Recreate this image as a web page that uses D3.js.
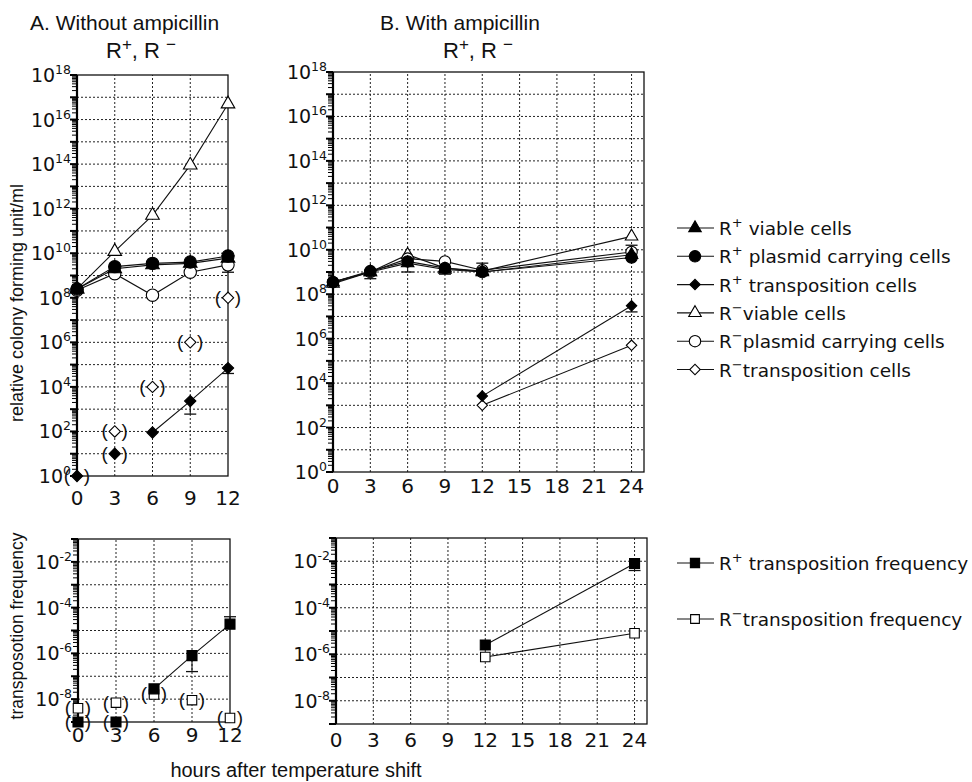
<!DOCTYPE html>
<html>
<head>
<meta charset="utf-8">
<script src="https://cdn.jsdelivr.net/npm/d3@7"></script>
<style>
	body { margin: 0; background: #fff; }
	text { font-family: "Liberation Sans", Arial, sans-serif; fill: #111; }
	text.num { font-family: "DejaVu Sans", sans-serif; }
</style>
</head>
<body>
<svg id="chart" width="972" height="782"></svg>
<script>
// ---- data ----
const hoursA = [0, 3, 6, 9, 12];
const hoursB = [0, 3, 6, 9, 12, 24];
const xTicksA = [0, 3, 6, 9, 12];
const xTicksB = [0, 3, 6, 9, 12, 15, 18, 21, 24];
const cfuExponents = [0, 2, 4, 6, 8, 10, 12, 14, 16, 18];
const freqExponents = [-2, -4, -6, -8];

// A. without ampicillin, colony forming units
const rpViableA = [2.5e8, 2e9, 3e9, 3.5e9, 6e9];
const rpPlasmidA = [2.5e8, 2.5e9, 3.5e9, 4e9, 7.5e9];
const rpTranspA = [1, 10, 90, 2.3e3, 7e4];
const rpTranspAParens = [true, true, false, false, false];
const rpTranspAErrLo = [null, null, null, 600, 4e4];
const rmViableA = [2.5e8, 1.2e10, 5e11, 9e13, 5e16];
const rmPlasmidA = [2.2e8, 1.2e9, 1.3e8, 1.4e9, 3e9];
const rmPlasmidAErrLo = [null, null, 1.1e8, 1.1e9, 1.4e9];
const rmTranspA = [null, 1e2, 1e4, 1e6, 1e8];
const rmTranspAParens = [true, true, true, true, true];

// B. with ampicillin, colony forming units
const rpViableB = [3.5e8, 1e9, 2.5e9, 1.3e9, 1e9, 6e9];
const rpViableBErrLo = [2.5e8, 5e8, 1e9, 8e8, 7e8, null];
const rpPlasmidB = [3.5e8, 1.1e9, 3e9, 1.5e9, 1e9, 4.5e9];
const rpTranspB = [null, null, null, null, 2.6e3, 3e7];
const rpTranspBErrLo = [null, null, null, null, null, 1.6e7];
const rmViableB = [3e8, 1e9, 6e9, 1.5e9, 1.1e9, 4e10];
const rmViableBErrHi = [null, null, null, null, 2.5e9, null];
const rmPlasmidB = [3.5e8, 1e9, 4e9, 3e9, 1.2e9, 8e9];
const rmPlasmidBErrHi = [null, null, null, null, null, 1.6e10];
const rmTranspB = [null, null, null, null, 1e3, 5e5];

// transposition frequency
const rpFreqA = [1e-9, 1e-9, 2.8e-8, 8e-7, 1.9e-5];
const rpFreqAParens = [true, true, false, false, false];
const rpFreqAErrLo = [null, null, null, 1.6e-7, null];
const rpFreqAErrHi = [null, null, null, null, 4e-5];
const rmFreqA = [4e-9, 7e-9, 1.6e-8, 9e-9, 1.5e-9];
const rmFreqAParens = [true, true, true, true, true];
const rpFreqB = [null, null, null, null, 2.5e-6, 8e-3];
const rpFreqBErrLo = [null, null, null, null, null, 4e-3];
const rmFreqB = [null, null, null, null, 7.6e-7, 8e-6];

// ---- marker styles ----
const markerStyles = {
	rpViable: { symbol: d3.symbolTriangle, size: 80, fill: '#000', rotate: 0 },
	rpPlasmid: { symbol: d3.symbolCircle, size: 120, fill: '#000', rotate: 0 },
	rpTransp: { symbol: d3.symbolSquare, size: 64, fill: '#000', rotate: 45 },
	rmViable: { symbol: d3.symbolTriangle, size: 80, fill: '#fff', rotate: 0 },
	rmPlasmid: { symbol: d3.symbolCircle, size: 120, fill: '#fff', rotate: 0 },
	rmTransp: { symbol: d3.symbolSquare, size: 64, fill: '#fff', rotate: 45 },
	rpFreq: { symbol: d3.symbolSquare, size: 100, fill: '#000', rotate: 0 },
	rmFreq: { symbol: d3.symbolSquare, size: 90, fill: '#fff', rotate: 0 },
};

const svg = d3.select('#chart');
svg.append('rect').attr('width', 972).attr('height', 782).attr('fill', '#fff');

function drawMarker(g, key, x, y, scale) {
	var st = markerStyles[key];
	g.append('path')
		.attr('d', d3.symbol().type(st.symbol).size(st.size * (scale || 1))())
		.attr('transform', 'translate(' + x + ',' + y + ') rotate(' + st.rotate + ')')
		.attr('fill', st.fill)
		.attr('stroke', '#000')
		.attr('stroke-width', 1.1);
}

function drawPanel(p, hours, series) {
	var x = d3.scaleLinear().domain([0, p.xMax]).range([p.x0, p.x1]);
	var y = d3.scaleLog().domain(p.yDomain).range([p.y0, p.y1]);
	var g = svg.append('g');

	var lo = Math.round(Math.log10(p.yDomain[0]));
	var hi = Math.round(Math.log10(p.yDomain[1]));

	// dotted grid, every decade and every x tick
	d3.range(lo + 1, hi).forEach(e => {
		g.append('line')
			.attr('x1', p.x0).attr('x2', p.x1)
			.attr('y1', y(Math.pow(10, e))).attr('y2', y(Math.pow(10, e)))
			.attr('stroke', '#222').attr('stroke-width', 1).attr('stroke-dasharray', '2,2');
	});
	p.xTicks.forEach(t => {
		if (t === 0 || x(t) >= p.x1 - 1) return;
		g.append('line')
			.attr('x1', x(t)).attr('x2', x(t))
			.attr('y1', p.y0).attr('y2', p.y1)
			.attr('stroke', '#222').attr('stroke-width', 1).attr('stroke-dasharray', '2,2');
	});

	// frame
	g.append('rect')
		.attr('x', p.x0).attr('y', p.y1)
		.attr('width', p.x1 - p.x0).attr('height', p.y0 - p.y1)
		.attr('fill', 'none').attr('stroke', '#111').attr('stroke-width', 1.3);
	g.append('line')
		.attr('x1', p.x0).attr('x2', p.x0).attr('y1', p.y0).attr('y2', p.y1)
		.attr('stroke', '#000').attr('stroke-width', 2.2);

	// log ticks on the left (major + minor)
	for (var e = lo; e <= hi; e++) {
		var base = Math.pow(10, e);
		g.append('line')
			.attr('x1', p.x0 - 7).attr('x2', p.x0)
			.attr('y1', y(base)).attr('y2', y(base))
			.attr('stroke', '#000').attr('stroke-width', 2);
		if (e === hi) break;
		for (var m = 2; m <= 9; m++) {
			g.append('line')
				.attr('x1', p.x0 - 5).attr('x2', p.x0)
				.attr('y1', y(m * base)).attr('y2', y(m * base))
				.attr('stroke', '#000').attr('stroke-width', 1);
		}
	}

	// y tick labels: 10 with superscript exponent
	p.yLabels.forEach(e => {
		var t = g.append('text')
			.attr('class', 'num')
			.attr('x', p.x0 - 6)
			.attr('y', y(Math.pow(10, e)) + 7)
			.attr('text-anchor', 'end')
			.style('font-size', '19px');
		t.append('tspan').text('10');
		t.append('tspan').attr('dy', -8).style('font-size', '12.5px').text(e);
	});

	// x tick labels
	g.selectAll('text.xt')
		.data(p.xTicks)
		.enter()
		.append('text')
		.attr('class', 'xt num')
		.attr('x', d => x(d))
		.attr('y', p.xLabelY)
		.attr('text-anchor', 'middle')
		.style('font-size', '20px')
		.text(d => d);

	// lines (only between points that are not in parentheses)
	series.forEach(s => {
		var pts = hours.map((h, i) => ({ h: h, v: s.values[i], paren: s.parens ? s.parens[i] : false }))
			.filter(d => d.v !== null && !d.paren);
		if (pts.length < 2) return;
		g.append('path')
			.datum(pts)
			.attr('d', d3.line().x(d => x(d.h)).y(d => y(d.v)))
			.attr('fill', 'none')
			.attr('stroke', '#111')
			.attr('stroke-width', 1.1);
	});

	// error bars
	series.forEach(s => {
		[s.errLo, s.errHi].forEach(errs => {
			if (!errs) return;
			errs.forEach((ev, i) => {
				if (ev === null || s.values[i] === null) return;
				var cx = x(hours[i]);
				g.append('line')
					.attr('x1', cx).attr('x2', cx)
					.attr('y1', y(s.values[i])).attr('y2', y(ev))
					.attr('stroke', '#111').attr('stroke-width', 1.1);
				g.append('line')
					.attr('x1', cx - 6).attr('x2', cx + 6)
					.attr('y1', y(ev)).attr('y2', y(ev))
					.attr('stroke', '#111').attr('stroke-width', 1.3);
			});
		});
	});

	// markers and parentheses
	series.forEach(s => {
		s.values.forEach((v, i) => {
			if (v === null) return;
			var cx = x(hours[i]);
			var cy = y(v);
			drawMarker(g, s.key, cx, cy, p.markerScale);
			if (s.parens && s.parens[i]) {
				[['(', -10], [')', 10]].forEach(pp => {
					g.append('text')
						.attr('x', cx + pp[1])
						.attr('y', cy + 6)
						.attr('text-anchor', 'middle')
						.style('font-size', '19px')
						.text(pp[0]);
				});
			}
		});
	});
}

// ---- panels ----
drawPanel(
	{ x0: 77, x1: 228, xMax: 12, y0: 476, y1: 75, yDomain: [1, 1e18], xTicks: xTicksA, yLabels: cfuExponents, xLabelY: 505, markerScale: 1 },
	hoursA,
	[
		{ key: 'rmViable', values: rmViableA },
		{ key: 'rmPlasmid', values: rmPlasmidA, errLo: rmPlasmidAErrLo },
		{ key: 'rmTransp', values: rmTranspA, parens: rmTranspAParens },
		{ key: 'rpViable', values: rpViableA },
		{ key: 'rpPlasmid', values: rpPlasmidA },
		{ key: 'rpTransp', values: rpTranspA, parens: rpTranspAParens, errLo: rpTranspAErrLo },
	]
);

drawPanel(
	{ x0: 333, x1: 644, xMax: 25, y0: 472, y1: 72, yDomain: [1, 1e18], xTicks: xTicksB, yLabels: cfuExponents, xLabelY: 493, markerScale: 0.85 },
	hoursB,
	[
		{ key: 'rmViable', values: rmViableB, errHi: rmViableBErrHi },
		{ key: 'rmPlasmid', values: rmPlasmidB, errHi: rmPlasmidBErrHi },
		{ key: 'rmTransp', values: rmTranspB },
		{ key: 'rpViable', values: rpViableB, errLo: rpViableBErrLo },
		{ key: 'rpPlasmid', values: rpPlasmidB },
		{ key: 'rpTransp', values: rpTranspB, errLo: rpTranspBErrLo },
	]
);

drawPanel(
	{ x0: 78, x1: 230, xMax: 12, y0: 722, y1: 539, yDomain: [1e-9, 1e-1], xTicks: xTicksA, yLabels: freqExponents, xLabelY: 742, markerScale: 1 },
	hoursA,
	[
		{ key: 'rmFreq', values: rmFreqA, parens: rmFreqAParens },
		{ key: 'rpFreq', values: rpFreqA, parens: rpFreqAParens, errLo: rpFreqAErrLo, errHi: rpFreqAErrHi },
	]
);

drawPanel(
	{ x0: 336, x1: 647, xMax: 25, y0: 724, y1: 538, yDomain: [1e-9, 1e-1], xTicks: xTicksB, yLabels: freqExponents, xLabelY: 747, markerScale: 1 },
	hoursB,
	[
		{ key: 'rmFreq', values: rmFreqB },
		{ key: 'rpFreq', values: rpFreqB, errLo: rpFreqBErrLo },
	]
);

// ---- titles ----
function supText(sel, parts, supSize) {
	// parts: [text, isSuper]
	var up = false;
	parts.forEach(pt => {
		var ts = sel.append('tspan').text(pt[0]);
		if (pt[1] && !up) { ts.attr('dy', -8).style('font-size', supSize); up = true; }
		else if (!pt[1] && up) { ts.attr('dy', 8); up = false; }
		else if (pt[1]) ts.style('font-size', supSize);
	});
}

svg.append('text').attr('x', 30).attr('y', 30).style('font-size', '21px').text('A. Without ampicillin');
supText(
	svg.append('text').attr('x', 141).attr('y', 58).attr('text-anchor', 'middle').style('font-size', '22px'),
	[['R', false], ['+', true], [', R ', false], ['\u2212', true]],
	'17px'
);
svg.append('text').attr('x', 380).attr('y', 30).style('font-size', '21px').text('B. With ampicillin');
supText(
	svg.append('text').attr('x', 478).attr('y', 58).attr('text-anchor', 'middle').style('font-size', '22px'),
	[['R', false], ['+', true], [', R ', false], ['\u2212', true]],
	'17px'
);

// axis titles
svg.append('text')
	.attr('transform', 'translate(23,303) rotate(-90)')
	.attr('text-anchor', 'middle')
	.style('font-size', '18px')
	.text('relative colony forming unit/ml');
svg.append('text')
	.attr('transform', 'translate(23,626) rotate(-90)')
	.attr('text-anchor', 'middle')
	.style('font-size', '17.5px')
	.text('transposotion frequency');
svg.append('text')
	.attr('x', 296).attr('y', 777)
	.attr('text-anchor', 'middle')
	.style('font-size', '20px')
	.text('hours after temperature shift');

// ---- legends ----
const legendTop = [
	{ key: 'rpViable', sign: '+', label: ' viable cells' },
	{ key: 'rpPlasmid', sign: '+', label: ' plasmid carrying cells' },
	{ key: 'rpTransp', sign: '+', label: ' transposition cells' },
	{ key: 'rmViable', sign: '\u2212', label: 'viable cells' },
	{ key: 'rmPlasmid', sign: '\u2212', label: 'plasmid carrying cells' },
	{ key: 'rmTransp', sign: '\u2212', label: 'transposition cells' },
];
const legendBottom = [
	{ key: 'rpFreq', sign: '+', label: ' transposition frequency' },
	{ key: 'rmFreq', sign: '\u2212', label: 'transposition frequency' },
];

function drawLegend(items, yStart, step) {
	items.forEach((it, i) => {
		var ly = yStart + i * step;
		svg.append('line')
			.attr('x1', 677).attr('x2', 714).attr('y1', ly).attr('y2', ly)
			.attr('stroke', '#111').attr('stroke-width', 1.1);
		drawMarker(svg, it.key, 695, ly, 0.85);
		supText(
			svg.append('text').attr('class', 'num').attr('x', 719).attr('y', ly + 7).style('font-size', '18.5px'),
			[['R', false], [it.sign, true], [it.label, false]],
			'13px'
		);
	});
}
drawLegend(legendTop, 228, 28.3);
drawLegend(legendBottom, 563, 56);
</script>
</body>
</html>
